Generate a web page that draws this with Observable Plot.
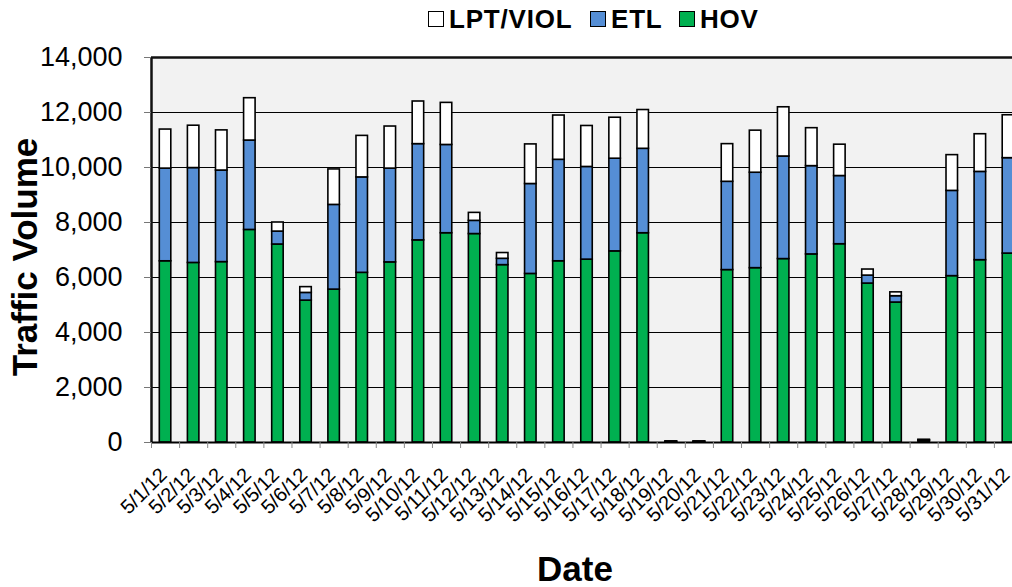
<!DOCTYPE html>
<html>
<head>
<meta charset="utf-8">
<script src="https://cdn.jsdelivr.net/npm/d3@7"></script>
<script src="https://cdn.jsdelivr.net/npm/@observablehq/plot@0.6"></script>
<style>
  html, body { margin: 0; padding: 0; background: #fff; overflow: hidden; }
  body { width: 1012px; height: 587px; font-family: "Liberation Sans", Arial, sans-serif; }
  #legend { position: relative; height: 40px; }
  .item { position: absolute; top: 4px; height: 30px; display: flex; align-items: center; font-weight: bold; font-size: 26px; letter-spacing: 0.8px; color: #000; white-space: nowrap; }
  .sw { box-sizing: border-box; width: 16px; height: 16px; border: 1.6px solid #000; margin-right: 5px; }
  #chart svg { max-width: none !important; display: block; }
</style>
</head>
<body>
<div id="legend"></div>
<div id="chart"></div>
<script>
const dates = ["5/1/12","5/2/12","5/3/12","5/4/12","5/5/12","5/6/12","5/7/12","5/8/12","5/9/12","5/10/12",
  "5/11/12","5/12/12","5/13/12","5/14/12","5/15/12","5/16/12","5/17/12","5/18/12","5/19/12","5/20/12",
  "5/21/12","5/22/12","5/23/12","5/24/12","5/25/12","5/26/12","5/27/12","5/28/12","5/29/12","5/30/12","5/31/12"];
const hov = [6590,6530,6560,7730,7200,5160,5560,6170,6550,7350,7610,7580,6450,6130,6590,6650,6950,7610,20,20,
  6270,6340,6670,6840,7210,5780,5090,60,6050,6630,6870];
const etl = [3370,3450,3330,3250,470,280,3080,3470,3410,3500,3210,480,230,3270,3690,3370,3370,3070,10,10,
  3210,3470,3730,3210,2480,290,230,20,3100,3210,3470];
const lpt = [1420,1540,1460,1540,330,210,1290,1510,1530,1550,1530,290,210,1440,1610,1490,1490,1410,10,10,
  1370,1530,1790,1380,1140,220,140,20,1300,1370,1560];
const seriesNames = ["LPT/VIOL","ETL","HOV"];
const seriesColors = ["#ffffff","#558ed5","#00b050"];
const yTicks = [0,2000,4000,6000,8000,10000,12000,14000];

// legend
const legend = document.getElementById("legend");
const legendLeft = [428, 590, 679];
seriesNames.forEach((n, k) => {
  const it = document.createElement("div");
  it.className = "item";
  it.style.left = legendLeft[k] + "px";
  it.innerHTML = `<span class="sw" style="background:${seriesColors[k]}"></span><span>${n}</span>`;
  legend.appendChild(it);
});

// stacked rows (HOV bottom, ETL middle, LPT/VIOL top)
const rows = [];
dates.forEach((d, i) => {
  const parts = [["HOV", hov[i]], ["ETL", etl[i]], ["LPT/VIOL", lpt[i]]];
  let base = 0;
  for (const [s, v] of parts) {
    rows.push({i, date: d, series: s, y1: base, y2: base + v});
    base += v;
  }
});

const chart = Plot.plot({
  width: 1024,
  height: 547,
  marginTop: 17,
  marginBottom: 145,
  marginLeft: 151,
  marginRight: 2,
  style: {fontFamily: "'Liberation Sans', Arial, sans-serif", color: "#000", background: "#fff", overflow: "visible", maxWidth: "none"},
  x: {type: "linear", domain: [0, dates.length], axis: null},
  y: {domain: [0, 14000], axis: null},
  color: {domain: seriesNames, range: seriesColors},
  marks: [
    Plot.frame({fill: "#f2f2f2", stroke: null}),
    Plot.gridY(yTicks, {stroke: "#000", strokeOpacity: 1, strokeWidth: 1}),
    Plot.rectY(rows, {
      x1: d => d.i, x2: d => d.i + 1, y1: "y1", y2: "y2",
      fill: "series", stroke: "#000", strokeWidth: 1.6,
      insetLeft: 8.3, insetRight: 8.3
    }),
    Plot.ruleY([14000], {stroke: "#111", strokeWidth: 2.5}),
    Plot.ruleX([0], {stroke: "#111", strokeWidth: 2.5}),
    Plot.ruleY([0], {stroke: "#000", strokeWidth: 2}),
    Plot.axisY({ticks: yTicks, tickSize: 7, tickPadding: 22, tickFormat: d3.format(","),
      fontSize: 27, stroke: "#777", label: null}),
    Plot.axisX({ticks: d3.range(dates.length + 1), tickSize: 6, tickFormat: () => "", stroke: "#888", label: null}),
    Plot.axisX({ticks: d3.range(dates.length).map(i => i + 0.5), tickSize: 0, tickPadding: 29, dx: -2,
      tickRotate: -45, tickFormat: d => dates[Math.floor(d)], fontSize: 20, label: null}),
    Plot.text(["Traffic Volume"], {frameAnchor: "left", textAnchor: "middle", rotate: -90, dx: -126, dy: 7,
      fontSize: 35, fontWeight: "bold", fill: "#000"}),
    Plot.text(["Date"], {frameAnchor: "bottom", lineAnchor: "middle", dx: -12, dy: 127,
      fontSize: 35, fontWeight: "bold", fill: "#000"})
  ]
});
document.getElementById("chart").appendChild(chart);
</script>
</body>
</html>
